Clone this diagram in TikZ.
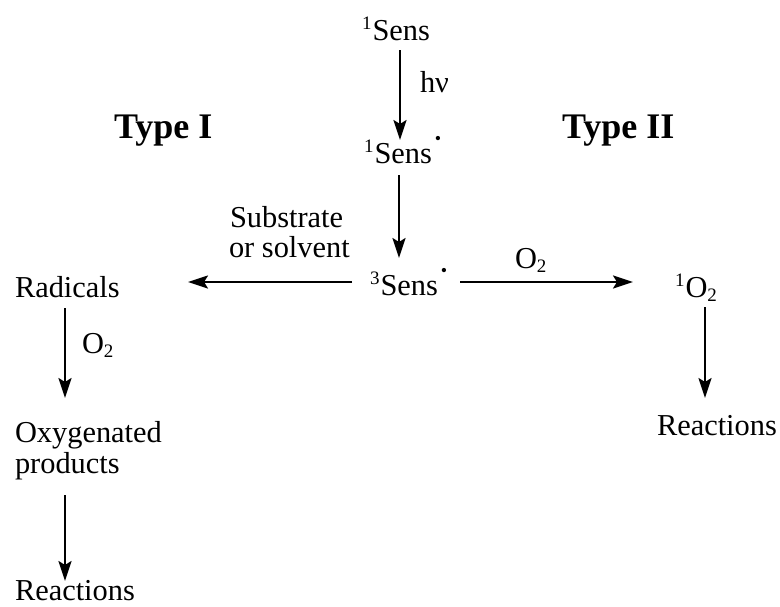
\documentclass[tikz,border=0pt]{standalone}
\usepackage{fontspec}
\setmainfont{Liberation Serif}
\usetikzlibrary{arrows.meta}
\newcommand{\supn}[1]{\raisebox{0.72ex}{\fontsize{9.5}{9.5}\selectfont #1}}
\newcommand{\subn}[1]{\raisebox{-0.35ex}{\fontsize{9.5}{9.5}\selectfont #1}}
\newcommand{\rdot}{\raisebox{1.35ex}{\fontsize{9}{9}\selectfont\textbullet}}
\begin{document}
\begin{tikzpicture}[x=0.5pt,y=-0.5pt,
  txt/.style={inner sep=0pt,outer sep=0pt,anchor=base west,font=\fontsize{15.2}{18}\selectfont},
  ttl/.style={inner sep=0pt,outer sep=0pt,anchor=base west,font=\fontsize{18}{22}\selectfont\bfseries},
  arr/.style={line width=1.15pt,-{Stealth[length=10pt,width=6.5pt,inset=2pt]}}]
\useasboundingbox (0,0) rectangle (780,606);
% nodes
\node[txt] (s1) at (362,40) {\supn{1}\kern0.5pt Sens};
\node[txt] (hv) at (420,92) {hν};
\node[txt] (s1s) at (364,163) {\supn{1}\kern0.5pt Sens\kern1.5pt\rdot};
\node[ttl] (t1) at (114,138) {Type I};
\node[ttl] (t2) at (562,138) {Type II};
\node[txt] (sub) at (230,227) {Substrate};
\node[txt] (solv) at (229,257) {or solvent};
\node[txt] (s3) at (370,295) {\supn{3}\kern0.5pt Sens\kern1.5pt\rdot};
\node[txt] (rad) at (15,297) {Radicals};
\node[txt] (o2r) at (515,268) {O\subn{2}};
\node[txt] (o1) at (675,297) {\supn{1}\kern0.5pt O\subn{2}};
\node[txt] (o2l) at (82,353) {O\subn{2}};
\node[txt] (oxy) at (15,442) {Oxygenated};
\node[txt] (prod) at (15,473) {products};
\node[txt] (rr) at (657,435) {Reactions};
\node[txt] (rl) at (15,600) {Reactions};
% arrows
\draw[arr] ([shift={(38,10)}]s1.base west) -- ([shift={(36,-23)}]s1s.base west);
\draw[arr] ([shift={(35,12)}]s1s.base west) -- ([shift={(29,-37)}]s3.base west);
\draw[arr] ([shift={(-18,-13)}]s3.base west) -- ([shift={(173,-15)}]rad.base west);
\draw[arr] ([shift={(90,-13)}]s3.base west) -- ([shift={(-42,-15)}]o1.base west);
\draw[arr] ([shift={(50,11)}]rad.base west) -- ([shift={(50,-44)}]oxy.base west);
\draw[arr] ([shift={(50,22)}]prod.base west) -- ([shift={(50,-19)}]rl.base west);
\draw[arr] ([shift={(30,10)}]o1.base west) -- ([shift={(48,-37)}]rr.base west);
\end{tikzpicture}
\end{document}
